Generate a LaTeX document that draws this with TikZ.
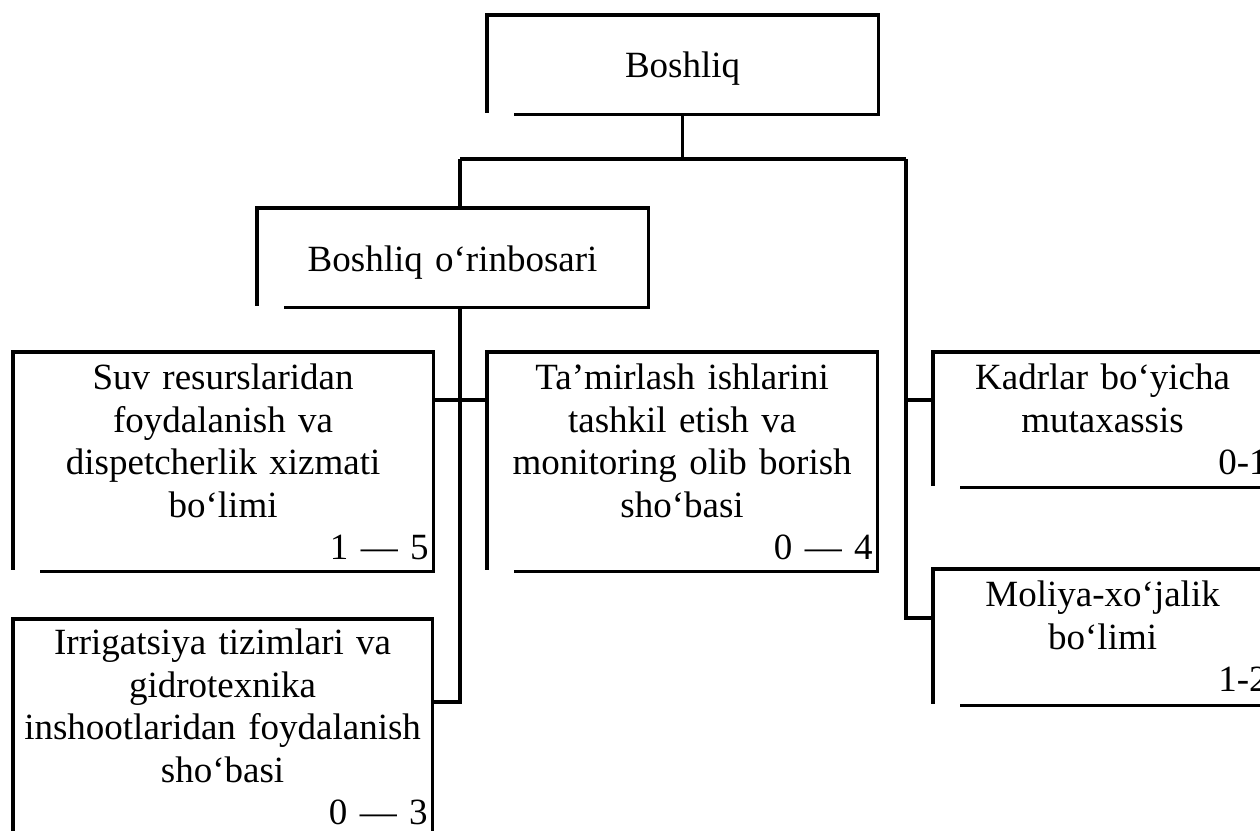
\documentclass[tikz,border=0pt]{standalone}
\usepackage{fontspec}
\setmainfont{Liberation Serif}
\begin{document}
\begin{tikzpicture}[x=1pt,y=-1pt,
  line width=3.2pt,
  box/.style={draw=none, anchor=north west, inner ysep=0pt, inner xsep=3pt,
    align=center, font=\fontsize{37}{42.5}\selectfont},
  frame/.style={line width=3.2pt, line join=miter}
]
\newcommand\frameof[1]{\draw[frame] ([yshift=1.5pt]#1.south west) -- (#1.north west) -- (#1.north east) -- (#1.south east) -- ([xshift=27pt]#1.south west);}
\useasboundingbox (0,0) rectangle (1260,830);
\clip (0,0) rectangle (1260,830);
% boxes
\node[box, text width=382pt, text height=61pt, text depth=35pt] (boss) at (487,15) {Boshliq};
\node[box, text width=382pt, text height=62pt, text depth=34pt] (dep) at (257,208) {Boshliq o‘rinbosari};
\node[box, text width=411pt, text height=36pt, text depth=180pt] (suv) at (13,352)
  {Suv resurslaridan\\ foydalanish va\\ dispetcherlik xizmati\\ bo‘limi\\ \hspace*{\fill}1 — 5\hspace*{5pt}};
\node[box, text width=381pt, text height=36pt, text depth=180pt] (tam) at (487,352)
  {Ta’mirlash ishlarini\\ tashkil etish va\\ monitoring olib borish\\ sho‘basi\\ \hspace*{\fill}0 — 4\hspace*{2pt}};
\node[box, text width=330pt, text height=36pt, text depth=96pt] (kad) at (933,352)
  {Kadrlar bo‘yicha\\ mutaxassis\\ \hspace*{\fill}0-1\hspace*{8pt}};
\node[box, text width=330pt, text height=36pt, text depth=97pt] (mol) at (933,569)
  {Moliya-xo‘jalik\\ bo‘limi\\ \hspace*{\fill}1-2\hspace*{8pt}};
\node[box, text width=410pt, text height=34pt, text depth=227pt] (irr) at (13,619)
  {Irrigatsiya tizimlari va\\ gidrotexnika\\ inshootlaridan foydalanish\\ sho‘basi\\ \hspace*{\fill}0 — 3\hspace*{5pt}};
\frameof{boss}
\frameof{dep}
\frameof{suv}
\frameof{tam}
\frameof{kad}
\frameof{mol}
\frameof{irr}
% connectors
\coordinate (tL) at (460,159);
\coordinate (tR) at (906,159);
\coordinate (lS) at (460,400);
\coordinate (lI) at (460,702);
\coordinate (rK) at (906,400);
\coordinate (rM) at (906,618);
\draw (boss.south) -- (boss.south |- tL);
\draw (tL) -- (tR);
\draw (tL) -- (tL |- dep.north);
\draw (tL |- dep.south) -- (lI) -- (lI -| irr.east);
\draw (suv.east |- lS) -- (tam.west |- lS);
\draw (tR) -- (rM) -- (rM -| mol.west);
\draw (rK) -- (rK -| kad.west);
\end{tikzpicture}
\end{document}
